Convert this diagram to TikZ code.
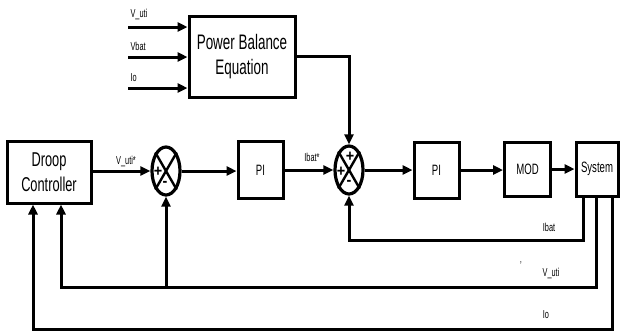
\documentclass[tikz,border=0pt]{standalone}
\usepackage{fontspec}
\setmainfont{Liberation Sans}[FakeStretch=0.64]
\newfontfamily\signfont{Liberation Sans}[FakeStretch=0.9]
\usetikzlibrary{arrows.meta, positioning, calc, shapes.geometric}

\begin{document}
\begin{tikzpicture}[x=1pt, y=-1pt, >={Triangle[length=10pt,width=9pt]},
  line width=3pt,
  block/.style={draw, rectangle, inner sep=0pt, align=center, font=\fontsize{15}{17}\selectfont},
  sumnode/.style={draw, ellipse, line width=3.2pt, minimum width=28pt, minimum height=48pt, inner sep=0pt},
  sgn/.style={font=\signfont\fontsize{16}{16}\selectfont\bfseries, inner sep=0pt},
  lbl/.style={font=\fontsize{11.5}{12}\selectfont, inner sep=0pt}]
  \useasboundingbox (0,0) rectangle (620,333);
  % Blocks
  \node[block, minimum width=106pt, minimum height=81pt, font=\fontsize{21}{25}\selectfont]
    (pbe) at (242,56.5) {Power Balance\\Equation};
  \node[block, minimum width=84pt, minimum height=62pt, font=\fontsize{20}{25}\selectfont]
    (droop) at (49,172) {Droop\\Controller};
  \node[sumnode] (sumA) at (166,171) {};
  \node[block, minimum width=45pt, minimum height=57pt] (piA) at (260.5,170) {PI};
  \node[sumnode] (sumB) at (349,170) {};
  \node[block, minimum width=45pt, minimum height=56pt] (piB) at (436.5,170) {PI};
  \node[block, minimum width=46pt, minimum height=54pt] (modb) at (527.5,169) {MOD};
  \node[block, minimum width=42pt, minimum height=54pt] (sys) at (597,169) {System};
  % Crosses and signs
  \foreach \s in {sumA, sumB} {
    \draw[line width=2.4pt] (\s.120) -- (\s.-60);
    \draw[line width=2.4pt] (\s.60) -- (\s.-120);
  }
  \node[sgn] (pA) at ($(sumA)+(-8,1)$) {+};
  \node[sgn] (mA) at ($(sumA)+(-1,13)$) {-};
  \node[sgn] (pB1) at ($(sumB)+(1,-13)$) {+};
  \node[sgn] (pB2) at ($(sumB)+(-8,2)$) {+};
  \node[sgn] (mB) at ($(sumB)+(0,13)$) {-};
  % Inputs of the power balance
  \coordinate (inV) at (128,27);
  \coordinate (inB) at (128,57);
  \coordinate (inO) at (128,88);
  \draw[->] (inV) -- (inV -| pbe.west);
  \draw[->] (inB) -- (inB -| pbe.west);
  \draw[->] (inO) -- (inO -| pbe.west);
  \node[lbl, anchor=west] (lV) at (129,14) {V\_uti};
  \node[lbl, anchor=west] (lB) at (129,46) {Vbat};
  \node[lbl, anchor=west] (lO) at (129,78) {Io};
  % Forward path
  \draw[->] (pbe.east) -| (sumB.north);
  \draw[->] (droop.east |- sumA) -- (sumA.west);
  \draw[->] (sumA.east) -- (piA.west |- sumA);
  \draw[->] (piA) -- (sumB);
  \draw[->] (sumB) -- (piB);
  \draw[->] (piB) -- (modb.west |- piB);
  \draw[->] (modb) -- (sys);
  \node[lbl] (lVref) at (126,161) {V\_uti*};
  \node[lbl] (lIref) at (312,157) {Ibat*};
  % Feedback
  \coordinate (oI) at ($(sys.south west)+(9,0)$);
  \coordinate (oV) at ($(sys.south west)+(22,0)$);
  \coordinate (oO) at ($(sys.south west)+(38,0)$);
  \draw[->] (oI) -- ++(0,43) -| (sumB.south);
  \draw[->] (oV) -- ++(0,90) coordinate (cV) -| ($(droop.south)+(12,0)$);
  \draw[->] (cV -| sumA.south) -- (sumA.south);
  \draw[->] (oO) -- ++(0,132) -| ($(droop.south)+(-16,0)$);
  \node[lbl] (lI) at (549,227) {Ibat};
  \node[lbl] (lVf) at (551,273) {V\_uti};
  \node[lbl] (lOf) at (546,315) {Io};
  \node[lbl] (tick) at (521,266) {'};
\end{tikzpicture}
\end{document}
